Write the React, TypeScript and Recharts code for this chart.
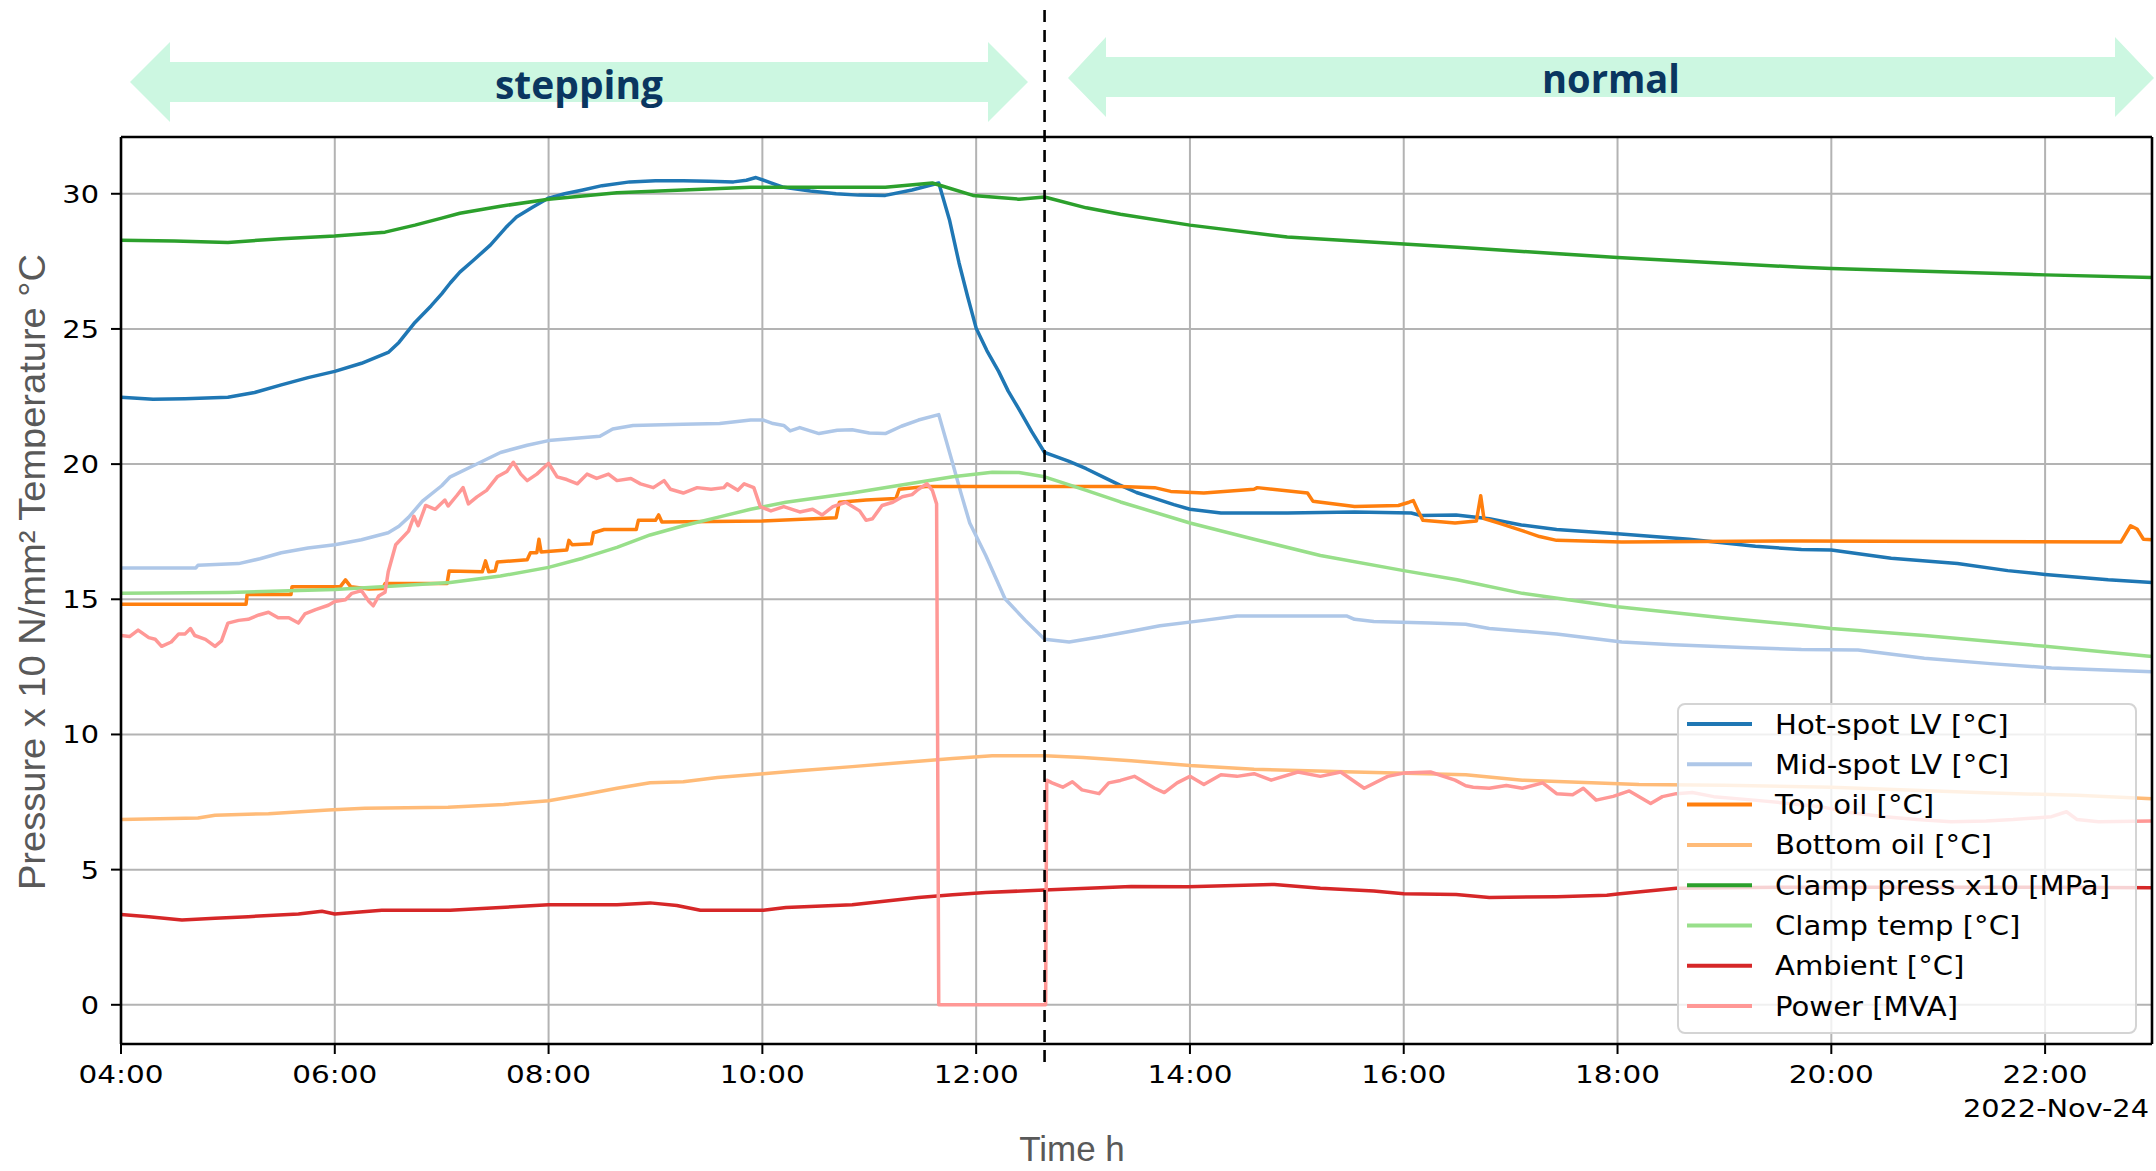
import React from 'react';
import { LineChart, Line, XAxis, YAxis, CartesianGrid, ReferenceLine } from 'recharts';

const W = 2156;
const H = 1171;

// ---- axis ticks ----
const xTicks = [4, 6, 8, 10, 12, 14, 16, 18, 20, 22];
const xTickLabels = ['04:00', '06:00', '08:00', '10:00', '12:00', '14:00', '16:00', '18:00', '20:00', '22:00'];
const yTicks = [0, 5, 10, 15, 20, 25, 30];
const yTickLabels = ['0', '5', '10', '15', '20', '25', '30'];
const dateLabel = '2022-Nov-24';
const switchTime = 12.64; // stepping -> normal

// ---- series (time in hours, value) ----
const hotSpot: [number, number][] = [
  [4.0, 22.47], [4.3, 22.4], [4.6, 22.42], [5.0, 22.47], [5.25, 22.65], [5.5, 22.93], [5.75, 23.2], [6.0, 23.43],
  [6.25, 23.73], [6.5, 24.13], [6.6, 24.5], [6.75, 25.24], [6.9, 25.85], [7.0, 26.3], [7.08, 26.7], [7.17, 27.1],
  [7.3, 27.55], [7.455, 28.1], [7.6, 28.75], [7.7, 29.14], [7.85, 29.5], [8.0, 29.84], [8.15, 30.0], [8.32, 30.14],
  [8.5, 30.3], [8.76, 30.44], [9.0, 30.48], [9.26, 30.48], [9.5, 30.46], [9.73, 30.44], [9.85, 30.5], [9.94, 30.6],
  [10.08, 30.4], [10.2, 30.24], [10.45, 30.1], [10.69, 30.0], [10.9, 29.95], [11.15, 29.94], [11.4, 30.14],
  [11.65, 30.4], [11.75, 29.04], [11.84, 27.44], [11.92, 26.2], [12.0, 25.03], [12.1, 24.2], [12.21, 23.43],
  [12.3, 22.7], [12.4, 22.03], [12.52, 21.2], [12.64, 20.43], [12.71, 20.33], [12.87, 20.1], [13.03, 19.83],
  [13.2, 19.5], [13.34, 19.23], [13.5, 18.95], [13.67, 18.73], [13.85, 18.5], [14.0, 18.33], [14.29, 18.19],
  [14.91, 18.19], [15.54, 18.23], [16.07, 18.19], [16.16, 18.1], [16.49, 18.12], [16.8, 17.98], [17.1, 17.75],
  [17.43, 17.58], [18.0, 17.42], [18.67, 17.22], [19.29, 16.96], [19.72, 16.84], [20.0, 16.82], [20.56, 16.52],
  [21.18, 16.32], [21.65, 16.06], [22.0, 15.92], [22.59, 15.72], [23.0, 15.62],
];

const midSpot: [number, number][] = [
  [4.0, 16.16], [4.7, 16.16], [4.72, 16.26], [5.1, 16.32], [5.3, 16.5], [5.5, 16.72], [5.75, 16.9], [6.0, 17.02],
  [6.25, 17.2], [6.5, 17.46], [6.6, 17.7], [6.69, 18.03], [6.82, 18.63], [7.0, 19.2], [7.08, 19.53], [7.3, 19.95],
  [7.55, 20.43], [7.8, 20.7], [8.0, 20.87], [8.48, 21.03], [8.6, 21.3], [8.79, 21.43], [9.26, 21.47], [9.6, 21.5],
  [9.89, 21.63], [10.01, 21.63], [10.1, 21.5], [10.2, 21.43], [10.26, 21.23], [10.35, 21.35], [10.53, 21.13],
  [10.7, 21.25], [10.84, 21.27], [11.0, 21.15], [11.15, 21.13], [11.3, 21.4], [11.46, 21.63], [11.65, 21.83],
  [11.78, 20.03], [11.86, 18.9], [11.94, 17.82], [12.09, 16.62], [12.27, 15.02], [12.46, 14.22], [12.64, 13.52],
  [12.87, 13.42], [13.18, 13.62], [13.45, 13.82], [13.72, 14.02], [14.13, 14.22], [14.44, 14.38], [15.47, 14.38],
  [15.54, 14.26], [15.72, 14.18], [16.25, 14.12], [16.58, 14.08], [16.8, 13.92], [17.43, 13.72], [17.83, 13.52],
  [18.04, 13.42], [18.52, 13.32], [19.17, 13.22], [19.72, 13.14], [20.25, 13.12], [20.87, 12.82], [21.49, 12.62],
  [22.06, 12.46], [23.0, 12.32],
];

const topOil: [number, number][] = [
  [4.0, 14.82], [5.17, 14.82], [5.18, 15.18], [5.59, 15.18], [5.6, 15.46], [6.05, 15.46], [6.1, 15.72], [6.15, 15.46],
  [6.32, 15.38], [6.45, 15.4], [6.47, 15.58], [7.05, 15.58], [7.07, 16.05], [7.38, 16.02], [7.41, 16.42], [7.44, 16.02],
  [7.5, 16.05], [7.52, 16.38], [7.8, 16.46], [7.83, 16.72], [7.89, 16.72], [7.91, 17.22], [7.93, 16.75], [8.17, 16.82],
  [8.19, 17.18], [8.22, 17.02], [8.4, 17.05], [8.42, 17.46], [8.52, 17.58], [8.82, 17.58], [8.84, 17.92], [9.0, 17.92],
  [9.03, 18.12], [9.06, 17.86], [10.0, 17.9], [10.69, 18.02], [10.72, 18.59], [10.97, 18.67], [11.25, 18.73],
  [11.28, 19.07], [11.53, 19.17], [13.35, 19.17], [13.67, 19.13], [13.82, 18.99], [14.13, 18.93], [14.6, 19.07],
  [14.63, 19.13], [15.1, 18.93], [15.15, 18.63], [15.54, 18.43], [15.95, 18.47], [16.05, 18.59], [16.09, 18.65],
  [16.13, 18.3], [16.18, 17.92], [16.48, 17.82], [16.68, 17.9], [16.72, 18.83], [16.75, 17.99], [16.89, 17.82],
  [17.1, 17.55], [17.27, 17.32], [17.43, 17.18], [18.04, 17.12], [19.72, 17.16], [22.71, 17.12], [22.8, 17.72],
  [22.86, 17.6], [22.92, 17.22], [23.0, 17.2],
];

const bottomOil: [number, number][] = [
  [4.0, 6.85], [4.72, 6.91], [4.88, 7.01], [5.38, 7.07], [5.94, 7.21], [6.28, 7.27], [7.06, 7.31], [7.58, 7.41],
  [8.0, 7.55], [8.32, 7.77], [8.64, 8.01], [8.95, 8.21], [9.26, 8.25], [9.58, 8.41], [10.01, 8.55], [10.31, 8.65],
  [10.84, 8.81], [11.46, 9.01], [11.78, 9.11], [12.15, 9.21], [12.64, 9.21], [13.0, 9.15], [13.45, 9.03], [14.0, 8.85],
  [14.6, 8.71], [15.54, 8.61], [16.58, 8.51], [17.11, 8.31], [18.2, 8.15], [19.0, 8.12], [20.0, 8.05], [21.43, 7.84],
  [22.3, 7.75], [23.0, 7.62],
];

const clampPress: [number, number][] = [
  [4.0, 28.28], [4.5, 28.25], [5.0, 28.2], [5.5, 28.34], [6.0, 28.44], [6.47, 28.58], [6.75, 28.84], [7.0, 29.1],
  [7.17, 29.28], [7.55, 29.54], [8.0, 29.8], [8.64, 30.04], [9.26, 30.14], [9.89, 30.24], [11.15, 30.24],
  [11.59, 30.4], [11.69, 30.28], [11.97, 29.94], [12.4, 29.8], [12.64, 29.88], [13.03, 29.48], [13.35, 29.24],
  [14.0, 28.84], [14.91, 28.4], [16.0, 28.14], [16.58, 28.0], [18.0, 27.64], [19.72, 27.28], [20.0, 27.24],
  [22.0, 27.0], [23.0, 26.9],
];

const clampTemp: [number, number][] = [
  [4.0, 15.22], [5.0, 15.25], [6.0, 15.36], [6.6, 15.5], [7.08, 15.62], [7.55, 15.86], [8.0, 16.18], [8.32, 16.52],
  [8.64, 16.92], [8.95, 17.38], [9.26, 17.72], [9.58, 18.03], [9.89, 18.33], [10.22, 18.59], [10.84, 18.93],
  [11.46, 19.33], [11.78, 19.53], [12.15, 19.7], [12.4, 19.69], [12.64, 19.53], [13.03, 19.03], [13.35, 18.6],
  [14.0, 17.82], [14.6, 17.22], [15.22, 16.62], [16.0, 16.06], [16.5, 15.72], [17.11, 15.22], [18.0, 14.72],
  [18.98, 14.32], [19.72, 14.04], [20.0, 13.92], [20.87, 13.66], [22.0, 13.26], [23.0, 12.88],
];

const ambient: [number, number][] = [
  [4.0, 3.34], [4.26, 3.26], [4.57, 3.14], [4.88, 3.2], [5.19, 3.26], [5.66, 3.36], [5.88, 3.46], [6.0, 3.36],
  [6.44, 3.5], [7.08, 3.5], [7.55, 3.6], [8.0, 3.7], [8.64, 3.7], [8.95, 3.77], [9.2, 3.67], [9.42, 3.5], [10.01, 3.5],
  [10.22, 3.6], [10.84, 3.7], [11.46, 3.97], [11.78, 4.07], [12.09, 4.15], [12.64, 4.25], [13.45, 4.38],
  [13.98, 4.37], [14.79, 4.45], [15.22, 4.31], [15.72, 4.21], [16.0, 4.11], [16.49, 4.08], [16.8, 3.97],
  [17.43, 4.0], [17.9, 4.05], [18.0, 4.1], [18.55, 4.31], [19.5, 4.35], [21.0, 4.35], [22.0, 4.35], [23.0, 4.33],
];

const power: [number, number][] = [
  [4.0, 13.66], [4.08, 13.62], [4.16, 13.86], [4.26, 13.58], [4.32, 13.52], [4.38, 13.26], [4.47, 13.42],
  [4.54, 13.72], [4.6, 13.72], [4.65, 13.92], [4.69, 13.66], [4.79, 13.52], [4.88, 13.26], [4.94, 13.46],
  [5.0, 14.12], [5.1, 14.22], [5.19, 14.26], [5.29, 14.42], [5.38, 14.52], [5.47, 14.32], [5.57, 14.32],
  [5.66, 14.12], [5.72, 14.46], [5.82, 14.62], [5.94, 14.78], [6.0, 14.92], [6.1, 14.98], [6.16, 15.22],
  [6.25, 15.32], [6.32, 14.92], [6.36, 14.76], [6.41, 15.12], [6.47, 15.26], [6.5, 16.02], [6.57, 17.02],
  [6.69, 17.52], [6.74, 18.07], [6.78, 17.72], [6.85, 18.47], [6.94, 18.33], [7.03, 18.67], [7.06, 18.45],
  [7.14, 18.83], [7.2, 19.13], [7.25, 18.53], [7.33, 18.79], [7.42, 19.03], [7.52, 19.53], [7.61, 19.73],
  [7.67, 20.07], [7.74, 19.63], [7.8, 19.39], [7.89, 19.63], [8.0, 20.03], [8.08, 19.53], [8.17, 19.43],
  [8.27, 19.27], [8.36, 19.63], [8.45, 19.47], [8.56, 19.63], [8.64, 19.39], [8.77, 19.47], [8.86, 19.27],
  [8.98, 19.13], [9.08, 19.39], [9.14, 19.07], [9.26, 18.93], [9.39, 19.13], [9.52, 19.07], [9.64, 19.13],
  [9.67, 19.27], [9.77, 19.03], [9.83, 19.27], [9.92, 19.13], [9.98, 18.43], [10.08, 18.27], [10.2, 18.43],
  [10.35, 18.23], [10.47, 18.33], [10.56, 18.12], [10.66, 18.43], [10.78, 18.59], [10.91, 18.27], [10.97, 17.92],
  [11.03, 17.98], [11.12, 18.47], [11.22, 18.59], [11.31, 18.79], [11.4, 18.87], [11.46, 19.07], [11.54, 19.27],
  [11.59, 19.03], [11.63, 18.53], [11.65, 0], [12.65, 0], [12.66, 8.31], [12.71, 8.21], [12.81, 8.05],
  [12.9, 8.25], [12.99, 7.95], [13.15, 7.81], [13.24, 8.21], [13.35, 8.3], [13.48, 8.45], [13.67, 8.01],
  [13.76, 7.85], [13.88, 8.21], [14.0, 8.45], [14.13, 8.15], [14.29, 8.51], [14.44, 8.45], [14.6, 8.55],
  [14.76, 8.31], [15.01, 8.61], [15.22, 8.45], [15.41, 8.61], [15.63, 8.01], [15.85, 8.45], [16.0, 8.57],
  [16.25, 8.61], [16.48, 8.31], [16.58, 8.1], [16.65, 8.05], [16.8, 8.01], [16.96, 8.11], [17.11, 8.01],
  [17.3, 8.21], [17.43, 7.81], [17.58, 7.77], [17.68, 8.01], [17.8, 7.57], [17.96, 7.71], [18.11, 7.91],
  [18.31, 7.45], [18.42, 7.7], [18.55, 7.81], [18.7, 7.85], [18.9, 7.7], [19.25, 7.58], [19.6, 7.45], [19.9, 7.33],
  [20.19, 7.1], [20.5, 6.96], [20.8, 6.85], [21.12, 6.77], [21.45, 6.8], [21.7, 6.85], [22.06, 6.96], [22.2, 7.14],
  [22.3, 6.85], [22.5, 6.77], [23.0, 6.8],
];

const seriesNames = [
  'Hot-spot LV [°C]', 'Mid-spot LV [°C]', 'Top oil [°C]', 'Bottom oil [°C]',
  'Clamp press x10 [MPa]', 'Clamp temp [°C]', 'Ambient [°C]', 'Power [MVA]',
];
const seriesColors = ['#1f77b4', '#aec7e8', '#ff7f0e', '#ffbb78', '#2ca02c', '#98df8a', '#d62728', '#ff9896'];
const seriesData = [hotSpot, midSpot, topOil, bottomOil, clampPress, clampTemp, ambient, power];

const SERIES = seriesNames.map((name, i) => ({
  name,
  color: seriesColors[i],
  pts: seriesData[i].map(([t, v]) => ({ t, v })),
}));

const TICK_FONT = 'DejaVu Sans, sans-serif';

const XTick = (props: any) => {
  const { x, y, payload } = props;
  const idx = xTicks.indexOf(payload.value);
  const label = idx >= 0 ? xTickLabels[idx] : '';
  return (
    <g transform={`translate(${x},${y})`}>
      <text transform="scale(1.23,1)" x={0} y={21} textAnchor="middle" fontFamily={TICK_FONT} fontSize={24} fill="#000">
        {label}
      </text>
    </g>
  );
};

const YTick = (props: any) => {
  const { x, y, payload } = props;
  const idx = yTicks.indexOf(payload.value);
  const label = idx >= 0 ? yTickLabels[idx] : '';
  return (
    <g transform={`translate(${x},${y})`}>
      <text transform="scale(1.2,1)" x={0} y={9} textAnchor="end" fontFamily={TICK_FONT} fontSize={24} fill="#000">
        {label}
      </text>
    </g>
  );
};

const DashedShape = (p: any) => {
  if (p == null || p.x1 == null) return null;
  const top = Math.min(p.y1, p.y2);
  const bot = Math.max(p.y1, p.y2);
  return (
    <line x1={p.x1} x2={p.x2} y1={top - 127} y2={bot + 23} stroke="#000" strokeWidth={2.6} strokeDasharray="12 8" />
  );
};

const Legend8 = () => {
  const rowH = 40.3;
  return (
    <div
      style={{
        position: 'absolute', left: 1677, top: 703, width: 456, height: 327,
        background: 'rgba(255,255,255,0.8)', border: '2px solid #d4d4d4', borderRadius: 8,
      }}
    >
      <svg width={456} height={327} style={{ position: 'absolute', left: 0, top: 0 }}>
        {SERIES.map((s, i) => {
          const cy = 19 + rowH * i;
          return (
            <g key={s.name}>
              <line x1={8} x2={73} y1={cy} y2={cy} stroke={s.color} strokeWidth={4} />
              <g transform={`translate(96,${cy + 9.5})`}>
                <text transform="scale(1.12,1)" x={0} y={0} fontFamily={TICK_FONT} fontSize={26} fill="#000">
                  {s.name}
                </text>
              </g>
            </g>
          );
        })}
      </svg>
    </div>
  );
};

export default function App() {
  return (
    <div style={{ position: 'absolute', left: 0, top: 0, width: W, height: H, background: '#fff', overflow: 'hidden' }}>
      <LineChart
        width={W}
        height={H}
        margin={{ top: 137, right: 4, bottom: 67, left: 10 }}
        style={{ position: 'absolute', left: 0, top: 0 }}
      >
        <CartesianGrid stroke="#b3b3b3" strokeWidth={2} />
        <XAxis
          type="number"
          dataKey="t"
          domain={[4, 23]}
          ticks={xTicks}
          interval={0}
          allowDataOverflow
          height={60}
          tickSize={10}
          tickMargin={8}
          tick={(p: any) => <XTick {...p} />}
          axisLine={{ stroke: '#000', strokeWidth: 2.6 }}
          tickLine={{ stroke: '#000', strokeWidth: 2 }}
        />
        <YAxis
          type="number"
          domain={[-1.45, 32.1]}
          ticks={yTicks}
          interval={0}
          allowDataOverflow
          width={111}
          tickSize={10}
          tickMargin={12}
          tick={(p: any) => <YTick {...p} />}
          axisLine={{ stroke: '#000', strokeWidth: 2.6 }}
          tickLine={{ stroke: '#000', strokeWidth: 2 }}
        />
        {SERIES.map((s) => (
          <Line
            key={s.name}
            name={s.name}
            data={s.pts}
            dataKey="v"
            type="linear"
            stroke={s.color}
            strokeWidth={3.5}
            strokeLinejoin="round"
            dot={false}
            activeDot={false}
            isAnimationActive={false}
          />
        ))}
        <ReferenceLine y={32.1} stroke="#000" strokeWidth={2.6} />
        <ReferenceLine x={23} stroke="#000" strokeWidth={2.6} />
        <ReferenceLine x={switchTime} stroke="#000" strokeWidth={2.6} strokeDasharray="12 8" shape={DashedShape} />
      </LineChart>

      <Legend8 />

      <svg width={W} height={H} style={{ position: 'absolute', left: 0, top: 0, pointerEvents: 'none' }}>
        <defs>
          <clipPath id="ylabclip">
            <rect x={0} y={0} width={45.5} height={H} />
          </clipPath>
        </defs>
        <polygon points="130,82 170,42 170,62 988,62 988,42 1028,82 988,122 988,102 170,102 170,122" fill="#ccf7e1" />
        <text x={579} y={99} textAnchor="middle" fontFamily="Open Sans, sans-serif" fontWeight={700} fontSize={40}
          fill="#0a3660" textLength={168} lengthAdjust="spacingAndGlyphs">stepping</text>
        <polygon points="1068,78 1106,37 1106,57 2115,57 2115,37 2154,78 2115,117 2115,97 1106,97 1106,117" fill="#ccf7e1" />
        <text x={1611} y={93} textAnchor="middle" fontFamily="Open Sans, sans-serif" fontWeight={700} fontSize={40}
          fill="#0a3660" textLength={138} lengthAdjust="spacingAndGlyphs">normal</text>

        <g clipPath="url(#ylabclip)">
          <text transform="translate(45,572) rotate(-90)" x={0} y={0} textAnchor="middle"
            fontFamily="Liberation Sans, Arial, sans-serif" fontSize={37} fill="#595959"
            textLength={636} lengthAdjust="spacingAndGlyphs">
            Pressure  x 10 N/mm²  Temperature °C
          </text>
        </g>

        <text x={1072} y={1161} textAnchor="middle" fontFamily="Liberation Sans, Arial, sans-serif" fontSize={35}
          fill="#595959">Time h</text>

        <g transform="translate(2149,1117)">
          <text transform="scale(1.2,1)" x={0} y={0} textAnchor="end" fontFamily={TICK_FONT} fontSize={24} fill="#000">
            {dateLabel}
          </text>
        </g>
      </svg>
    </div>
  );
}
